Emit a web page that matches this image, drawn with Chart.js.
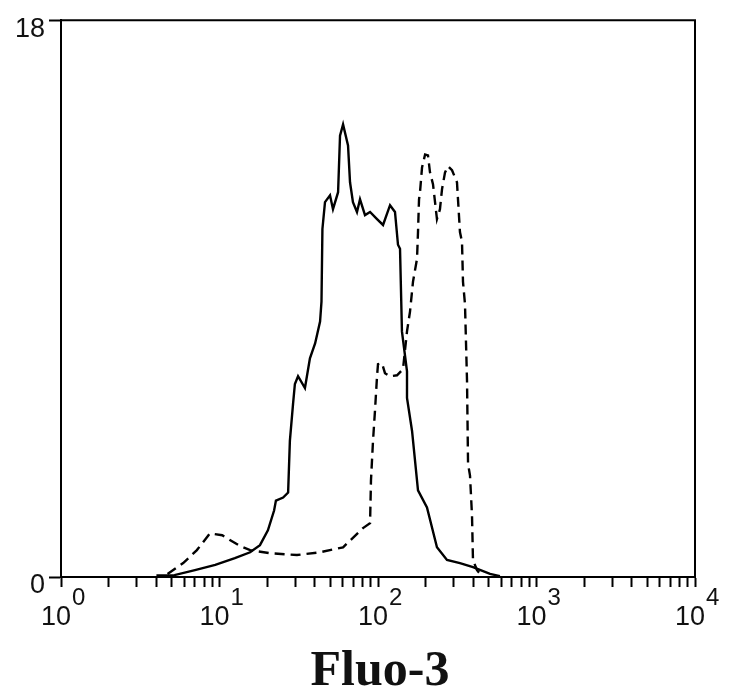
<!DOCTYPE html>
<html>
<head>
<meta charset="utf-8">
<script src="https://cdn.jsdelivr.net/npm/chart.js@4/dist/chart.umd.min.js"></script>
<style>
html,body{margin:0;padding:0;background:#fff;}
canvas{display:block;}
</style>
</head>
<body>
<canvas id="c" width="729" height="697"></canvas>
<script>
// ---- data ----
const solidX = [4.0, 5.2, 7.0, 9.4, 12.5, 15.6, 18.0, 20.2, 22.1, 22.7, 25.2, 27.1, 27.8, 29.1, 29.9, 31.3, 34.6, 37.2, 40.1, 43.1, 44.0, 44.6, 46.3, 49.8, 52.0, 56.0, 57.6, 60.2, 64.7, 66.6, 69.5, 73.7, 77.0, 82.8, 89.1, 98.6, 107.6, 119.1, 128, 133.7, 137.7, 141.6, 152.4, 152.4, 164, 178.8, 203.7, 235.5, 272.4, 328.9, 397.4, 509, 588];
const solidY = [0.05, 0.06, 0.22, 0.39, 0.61, 0.80, 1.03, 1.51, 2.15, 2.47, 2.57, 2.73, 4.40, 5.59, 6.24, 6.49, 6.11, 7.07, 7.55, 8.26, 8.9, 11.25, 12.12, 12.34, 11.89, 12.44, 14.27, 14.63, 13.95, 12.76, 12.12, 11.80, 12.21, 11.70, 11.80, 11.57, 11.38, 12.02, 11.80, 10.74, 10.61, 7.94, 6.65, 5.79, 4.72, 2.80, 2.25, 0.96, 0.55, 0.45, 0.32, 0.10, 0.03];
const dashX = [4.7, 5.9, 7.2, 8.7, 10.4, 11.7, 13.5, 15.6, 20.8, 30.8, 43.1, 60.2, 80.4, 89.1, 90.3, 93.0, 95.7, 98.6, 100, 106, 110.7, 119, 131.8, 143.8, 152.4, 159.2, 166.3, 176.3, 178.8, 181.5, 184.1, 189.6, 198.2, 206.7, 212.8, 222.3, 229, 235.5, 246, 253.5, 264.8, 276.6, 293.1, 315, 319.7, 328.9, 338.8, 343.7, 353.9, 364.5, 369.9, 380.6, 391.8, 397.4, 421.4, 453];
const dashY = [0.1, 0.45, 0.87, 1.41, 1.35, 1.19, 1.0, 0.87, 0.77, 0.71, 0.80, 0.96, 1.58, 1.74, 3.12, 4.40, 5.37, 6.49, 6.88, 6.91, 6.59, 6.49, 6.52, 6.72, 7.94, 8.58, 9.55, 10.29, 11.15, 12.21, 12.44, 13.24, 13.66, 13.63, 13.08, 12.70, 12.12, 11.57, 11.89, 12.54, 13.08, 13.28, 13.15, 12.76, 12.21, 11.15, 10.83, 9.55, 8.81, 6.33, 3.66, 3.28, 1.99, 0.55, 0.22, 0.03];
const xDecadeExponents = [0, 1, 2, 3, 4];
const xMinorMultipliers = [1, 2, 3, 4, 5, 6, 7, 8, 9];
const yTicks = [0, 18];
const xTitle = 'Fluo-3';

// ---- build ----
const toPts = (xs, ys) => xs.map((x, i) => ({x: x, y: ys[i]}));

const xTickValues = [];
xDecadeExponents.forEach((e, k) => {
  if (k < xDecadeExponents.length - 1) {
    xMinorMultipliers.forEach(m => xTickValues.push(m * Math.pow(10, e)));
  } else {
    xTickValues.push(Math.pow(10, e));
  }
});

const labelFont = '"Liberation Sans", Arial, sans-serif';

const decorPlugin = {
  id: 'decor',
  afterDraw(chart) {
    const ctx = chart.ctx;
    const a = chart.chartArea;
    const xs = chart.scales.x;
    ctx.save();
    // frame top & right
    ctx.strokeStyle = '#000';
    ctx.lineWidth = 2;
    ctx.beginPath();
    ctx.moveTo(a.left, a.top);
    ctx.lineTo(a.right, a.top);
    ctx.lineTo(a.right, a.bottom);
    ctx.stroke();
    // x tick labels with superscripts
    ctx.fillStyle = '#111';
    ctx.textBaseline = 'alphabetic';
    ctx.textAlign = 'left';
    xDecadeExponents.forEach(e => {
      const px = xs.getPixelForValue(Math.pow(10, e));
      ctx.font = '27px ' + labelFont;
      const w10 = ctx.measureText('10').width;
      const sx = px - 5 - w10 / 2;
      ctx.fillText('10', sx, 625);
      ctx.font = '24px ' + labelFont;
      ctx.fillText(String(e), sx + w10 + 1, 605);
    });
    // axis title
    ctx.font = 'bold 50px "Liberation Serif", "Times New Roman", serif';
    ctx.textAlign = 'center';
    ctx.fillStyle = '#111';
    ctx.fillText(xTitle, (a.left + a.right) / 2 + 2, 685);
    ctx.restore();
  }
};

new Chart(document.getElementById('c'), {
  type: 'scatter',
  data: {
    datasets: [
      {
        data: toPts(solidX, solidY),
        showLine: true,
        borderColor: '#000',
        borderWidth: 2.4,
        pointRadius: 0,
        tension: 0,
        fill: false
      },
      {
        data: toPts(dashX, dashY),
        showLine: true,
        borderColor: '#000',
        borderWidth: 2.4,
        borderDash: [10, 6],
        pointRadius: 0,
        tension: 0,
        fill: false
      }
    ]
  },
  options: {
    responsive: false,
    devicePixelRatio: 1,
    animation: false,
    layout: { padding: { left: 0, right: 34, top: 17, bottom: 0 } },
    plugins: { legend: { display: false }, tooltip: { enabled: false }, title: { display: false } },
    scales: {
      x: {
        type: 'logarithmic',
        min: 1,
        max: 10000,
        afterBuildTicks(scale) { scale.ticks = xTickValues.map(v => ({ value: v })); },
        afterFit(scale) { scale.height = 120; },
        ticks: { display: false, autoSkip: false },
        grid: { drawOnChartArea: false, drawTicks: true, tickLength: 10, tickColor: '#000', tickWidth: 2 },
        border: { display: true, color: '#000', width: 2 }
      },
      y: {
        type: 'linear',
        min: 0,
        max: 18,
        afterBuildTicks(scale) { scale.ticks = yTicks.map(v => ({ value: v })); },
        afterFit(scale) { scale.width = 61; },
        ticks: {
          autoSkip: false,
          color: '#111',
          font: { family: labelFont, size: 27 },
          padding: 4,
          labelOffset: 9,
          callback: v => String(v)
        },
        grid: { drawOnChartArea: false, drawTicks: true, tickLength: 12, tickColor: '#000', tickWidth: 2 },
        border: { display: true, color: '#000', width: 2 }
      }
    }
  },
  plugins: [decorPlugin]
});
</script>
</body>
</html>
